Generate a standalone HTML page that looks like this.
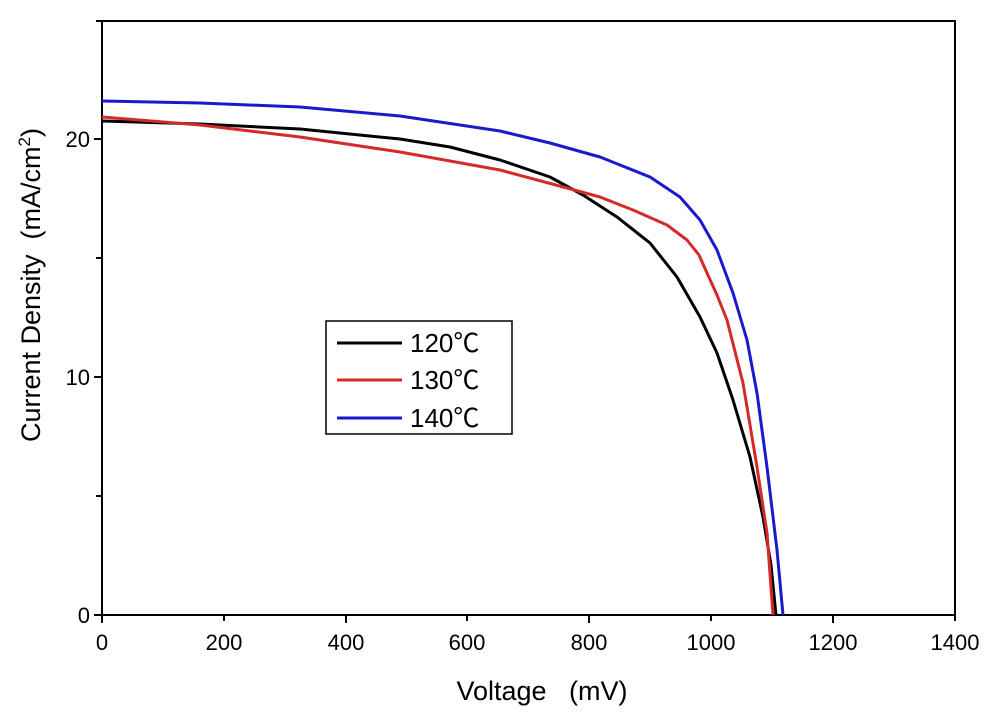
<!DOCTYPE html>
<html><head><style>body{margin:0;background:#fff}</style></head><body>
<svg width="995" height="712" xmlns="http://www.w3.org/2000/svg" font-family="Liberation Sans, Arial, sans-serif">
<rect width="995" height="712" fill="#fff"/>
<g stroke="#000" stroke-width="2" fill="none">
<rect x="102" y="21" width="853" height="594"/>
<path d="M102 615v8M224 615v6M346 615v8M467 615v6M589 615v8M711 615v6M833 615v8M955 615v6"/>
<path d="M102 615h-8M102 496h-6M102 377h-8M102 258h-6M102 139h-8M102 21h-6"/>
</g>
<g font-size="22" text-anchor="middle" fill="#000">
<text x="102" y="650">0</text><text x="224" y="650">200</text><text x="346" y="650">400</text><text x="467" y="650">600</text><text x="589" y="650">800</text><text x="711" y="650">1000</text><text x="833" y="650">1200</text><text x="955" y="650">1400</text>
</g>
<g font-size="22" text-anchor="end" fill="#000">
<text x="90" y="623">0</text><text x="90" y="385">10</text><text x="90" y="147">20</text>
</g>
<text x="542" y="700" font-size="27" text-anchor="middle">Voltage&#160;&#160;&#160;(mV)</text>
<text transform="translate(40,285) rotate(-90)" font-size="27" text-anchor="middle">Current Density&#160;&#160;(mA/cm<tspan font-size="17" dy="-10">2</tspan><tspan dy="10">)</tspan></text>
<g fill="none" stroke-width="3" stroke-linejoin="round">
<polyline stroke="#000" points="102,121 200,124 300,129 400,139 450,147 500,160 550,177 583,195 617,217 650,243 677,277 700,317 717,353 733,400 750,457 763,517 771,565 776,615"/>
<polyline stroke="#d42a2a" points="102,117 200,125 300,137 400,152 500,170 567,188 600,197 633,210 667,225 687,240 699,255 707,273 717,295 727,320 743,383 757,467 767,533 773,615"/>
<polyline stroke="#1a1acc" points="102,101 200,103 300,107 400,116 500,131 550,143 600,157 650,177 680,197 700,220 717,250 733,293 747,340 757,393 767,467 777,550 783,615"/>
</g>
<rect x="326" y="321" width="186" height="113" fill="#fff" stroke="#000" stroke-width="1.5"/>
<g stroke-width="3"><line x1="337" y1="343" x2="402" y2="343" stroke="#000"/><line x1="337" y1="380" x2="402" y2="380" stroke="#d42a2a"/><line x1="337" y1="418" x2="402" y2="418" stroke="#1a1acc"/></g>
<g font-size="26" font-family="Liberation Sans, Noto Sans CJK SC, sans-serif"><text x="410" y="352">120℃</text><text x="410" y="389">130℃</text><text x="410" y="427">140℃</text></g>
</svg>
</body></html>
